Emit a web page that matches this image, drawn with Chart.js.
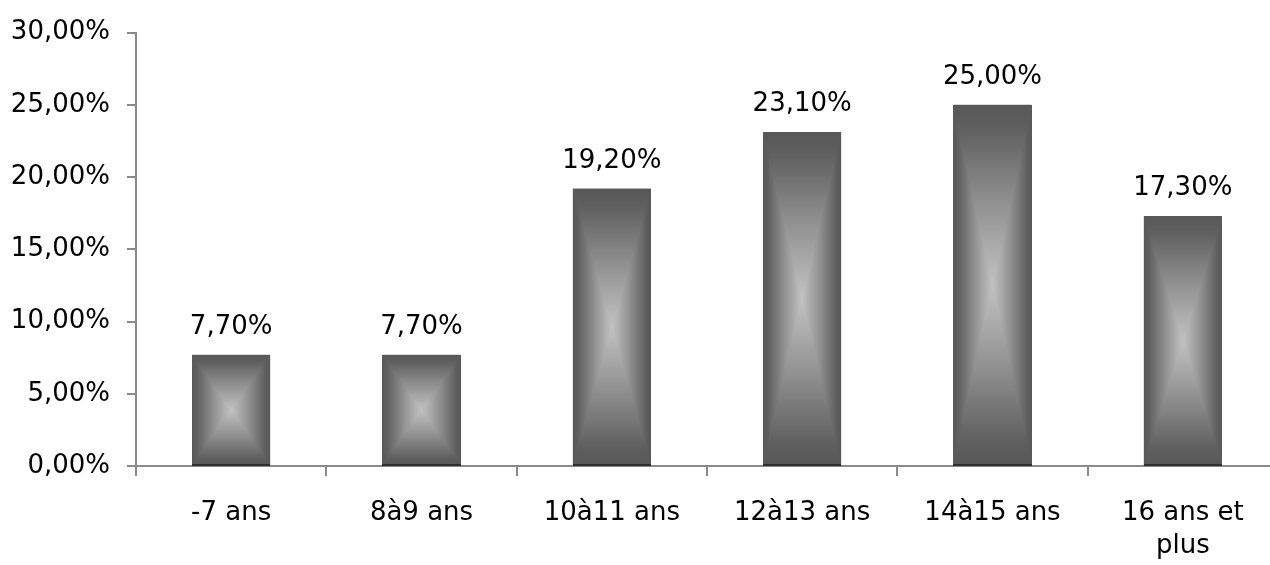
<!DOCTYPE html>
<html>
<head>
<meta charset="utf-8">
<script src="https://cdn.jsdelivr.net/npm/chart.js@4/dist/chart.umd.min.js"></script>
<style>
  html, body { margin: 0; padding: 0; background: #fff; overflow: hidden; }
  canvas { display: block; }
</style>
</head>
<body>
<canvas id="c" width="1280" height="565"></canvas>
<script>
const categories = ['-7 ans', '8à9 ans', '10à11 ans', '12à13 ans', '14à15 ans', ['16 ans et', 'plus']];
const values = [7.7, 7.7, 19.2, 23.1, 25.0, 17.3];
const yMin = 0, yMax = 30, yStep = 5;

const FONT = 'DejaVu Sans';
const fmt = v => v.toFixed(2).replace('.', ',') + '%';

// gray level along edge(0) -> centre(1)
const gradStops = [[0, 88], [0.12, 94], [0.55, 145], [1, 194]];
function grayAt(s) {
  for (let k = 1; k < gradStops.length; k++) {
    if (s <= gradStops[k][0]) {
      const a = gradStops[k - 1], b = gradStops[k];
      const f = (s - a[0]) / (b[0] - a[0]);
      return a[1] + (b[1] - a[1]) * f;
    }
  }
  return gradStops[gradStops.length - 1][1];
}

const gradientBars = {
  id: 'gradientBars',
  afterDatasetsDraw(chart) {
    const ctx = chart.ctx;
    const meta = chart.getDatasetMeta(0);
    meta.data.forEach((bar, i) => {
      const p = bar.getProps(['x', 'y', 'base', 'width'], true);
      const x0 = Math.round(p.x - p.width / 2), x1 = Math.round(p.x + p.width / 2);
      const y0 = Math.round(Math.min(p.y, p.base)), y1 = Math.round(Math.max(p.y, p.base));
      const w = x1 - x0, h = y1 - y0;
      if (w > 0 && h > 0) {
        const img = ctx.getImageData(x0, y0, w, h);
        const hw = w / 2, hh = h / 2;
        for (let yy = 0; yy < h; yy++) {
          const dy = Math.abs(yy + 0.5 - hh) / hh;
          for (let xx = 0; xx < w; xx++) {
            const dx = Math.abs(xx + 0.5 - hw) / hw;
            const g = Math.round(grayAt(1 - Math.max(dx, dy)));
            const o = (yy * w + xx) * 4;
            img.data[o] = g; img.data[o + 1] = g; img.data[o + 2] = g; img.data[o + 3] = 255;
          }
        }
        ctx.putImageData(img, x0, y0);
      }
      ctx.save();
      ctx.fillStyle = '#2f2f2f';
      ctx.fillRect(x0, y1 - 1, w, 2);
      // value label
      ctx.fillStyle = '#000';
      ctx.font = '26px "' + FONT + '"';
      ctx.textAlign = 'center';
      ctx.textBaseline = 'alphabetic';
      ctx.fillText(fmt(values[i]), p.x, y0 - 21);
      ctx.restore();
    });
  }
};

new Chart(document.getElementById('c'), {
  type: 'bar',
  data: {
    labels: categories,
    datasets: [{
      data: values,
      backgroundColor: '#6a6a6a',
      borderWidth: 0,
      barPercentage: 0.41,
      categoryPercentage: 1.0
    }]
  },
  options: {
    responsive: false,
    animation: false,
    events: [],
    layout: { padding: { top: 28, right: 2, bottom: 0, left: 0 } },
    plugins: { legend: { display: false }, tooltip: { enabled: false } },
    scales: {
      x: {
        offset: true,
        grid: { display: true, drawOnChartArea: false, tickLength: 10, color: '#8a8a8a', lineWidth: 2, offset: true },
        border: { display: true, color: '#8a8a8a', width: 2 },
        ticks: { color: '#000', font: { family: FONT, size: 26, lineHeight: 1.3 }, padding: 20, maxRotation: 0, autoSkip: false },
        afterFit: s => { s.height = 99; }
      },
      y: {
        min: yMin, max: yMax,
        grid: { display: true, drawOnChartArea: false, tickLength: 9, color: '#8a8a8a', lineWidth: 2 },
        border: { display: true, color: '#8a8a8a', width: 2 },
        ticks: { stepSize: yStep, color: '#000', font: { family: FONT, size: 26 }, padding: 17, callback: v => fmt(v) },
        afterFit: s => { s.width = 136; }
      }
    }
  },
  plugins: [gradientBars]
});
</script>
</body>
</html>
